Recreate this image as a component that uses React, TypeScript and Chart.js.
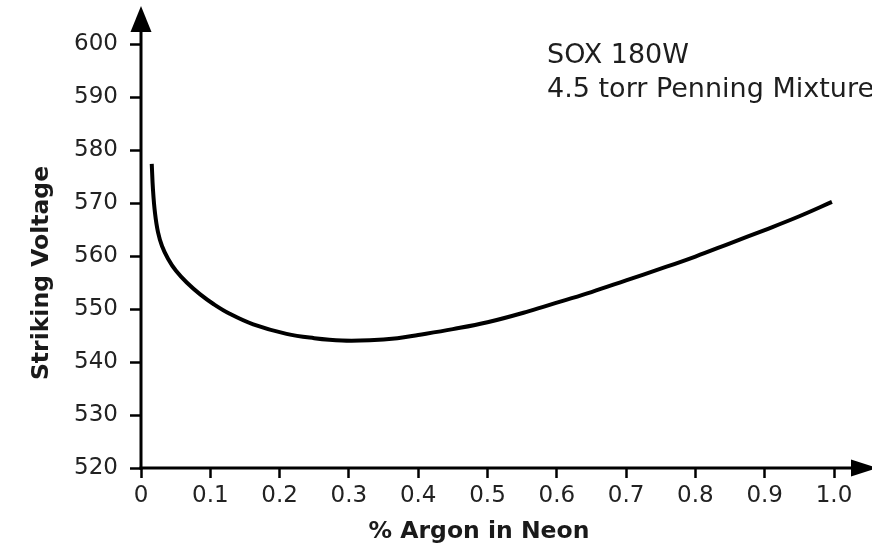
import React, { useEffect, useRef } from "react";
import { Chart, registerables } from "chart.js";

Chart.register(...registerables);

const argonPercent = [0.0155, 0.0173, 0.0202, 0.0245, 0.0303, 0.039, 0.0505, 0.066, 0.085, 0.105, 0.128, 0.162, 0.21, 0.25, 0.29, 0.33, 0.37, 0.4, 0.45, 0.5, 0.56, 0.605, 0.65, 0.7, 0.75, 0.8, 0.85, 0.9, 0.95, 0.997];
const strikingVoltage = [577.4, 572.5, 568.1, 564.5, 561.9, 559.5, 557.2, 555.0, 552.8, 550.9, 549.1, 547.1, 545.3, 544.5, 544.05, 544.1, 544.5, 545.1, 546.2, 547.5, 549.6, 551.4, 553.2, 555.4, 557.6, 559.9, 562.4, 564.9, 567.5, 570.2];
const xTickValues = [0, 0.1, 0.2, 0.3, 0.4, 0.5, 0.6, 0.7, 0.8, 0.9, 1.0];
const xTickLabels = ["0", "0.1", "0.2", "0.3", "0.4", "0.5", "0.6", "0.7", "0.8", "0.9", "1.0"];
const yTickValues = [520, 530, 540, 550, 560, 570, 580, 590, 600];
const annotationLines = ["SOX 180W", "4.5 torr Penning Mixture"];
const xTitle = "% Argon in Neon";
const yTitle = "Striking Voltage";

const decorPlugin = {
  id: "decor",
  afterDraw(chart: any) {
    const ctx = chart.ctx;
    const xs = chart.scales.x;
    const ys = chart.scales.y;
    const x0 = xs.getPixelForValue(0);
    const yb = ys.getPixelForValue(520);
    ctx.save();
    ctx.strokeStyle = "#000";
    ctx.fillStyle = "#000";
    ctx.lineWidth = 3;
    // vertical axis
    ctx.beginPath();
    ctx.moveTo(x0, yb + 1.5);
    ctx.lineTo(x0, 28);
    ctx.stroke();
    ctx.beginPath();
    ctx.moveTo(x0, 6);
    ctx.lineTo(x0 - 10.5, 32);
    ctx.lineTo(x0 + 10.5, 32);
    ctx.closePath();
    ctx.fill();
    // horizontal axis
    ctx.beginPath();
    ctx.moveTo(x0 - 1.5, yb);
    ctx.lineTo(854, yb);
    ctx.stroke();
    ctx.beginPath();
    ctx.moveTo(877, yb);
    ctx.lineTo(851, yb - 8.5);
    ctx.lineTo(851, yb + 8.5);
    ctx.closePath();
    ctx.fill();

    // annotation
    ctx.fillStyle = "#1e1e1e";
    ctx.font = "27px 'DejaVu Sans'";
    ctx.textAlign = "left";
    ctx.textBaseline = "alphabetic";
    ctx.fillText(annotationLines[0], 547, 63);
    ctx.fillText(annotationLines[1], 547, 97);

    // x title
    ctx.fillStyle = "#1a1a1a";
    ctx.font = "bold 23.5px 'DejaVu Sans'";
    ctx.textAlign = "center";
    ctx.fillText(xTitle, 479, 538);

    // y title
    ctx.save();
    ctx.translate(48, 273);
    ctx.rotate(-Math.PI / 2);
    ctx.font = "bold 23.5px 'DejaVu Sans'";
    ctx.textAlign = "center";
    ctx.textBaseline = "alphabetic";
    ctx.fillText(yTitle, 0, 0);
    ctx.restore();
    ctx.restore();
  },
};

export default function App() {
  const canvasRef = useRef<HTMLCanvasElement | null>(null);

  useEffect(() => {
    if (!canvasRef.current) return;
    const chart = new Chart(canvasRef.current, {
      type: "line",
      data: {
        datasets: [
          {
            data: argonPercent.map((x, i) => ({ x, y: strikingVoltage[i] })),
            borderColor: "#000",
            borderWidth: 4,
            pointRadius: 0,
            tension: 0.4,
            borderCapStyle: "butt",
            fill: false,
          },
        ],
      },
      options: {
        animation: false,
        responsive: true,
        maintainAspectRatio: false,
        layout: { padding: { top: 44, left: 0, right: 38, bottom: 0 } },
        plugins: { legend: { display: false }, tooltip: { enabled: false } },
        scales: {
          x: {
            type: "linear",
            min: 0,
            max: 1,
            afterFit: (s: any) => {
              s.height = 76;
            },
            afterBuildTicks: (s: any) => {
              s.ticks = xTickValues.map((v) => ({ value: v }));
            },
            border: { display: false },
            grid: {
              drawOnChartArea: false,
              drawTicks: true,
              tickLength: 10,
              tickWidth: 2.5,
              tickColor: "#000",
            },
            ticks: {
              color: "#222",
              font: { family: "'DejaVu Sans'", size: 23 },
              padding: 4,
              maxRotation: 0,
              autoSkip: false,
              callback: (v: any) => {
                const i = xTickValues.findIndex((t) => Math.abs(t - Number(v)) < 1e-6);
                return i >= 0 ? xTickLabels[i] : "";
              },
            },
          },
          y: {
            type: "linear",
            min: 520,
            max: 600,
            afterFit: (s: any) => {
              s.width = 141;
            },
            afterBuildTicks: (s: any) => {
              s.ticks = yTickValues.map((v) => ({ value: v }));
            },
            border: { display: false },
            grid: {
              drawOnChartArea: false,
              drawTicks: true,
              tickLength: 11,
              tickWidth: 2.5,
              tickColor: "#000",
            },
            ticks: {
              color: "#222",
              font: { family: "'DejaVu Sans'", size: 23 },
              padding: 12,
              autoSkip: false,
              callback: (v: any) => String(v),
            },
          },
        },
      },
      plugins: [decorPlugin],
    });
    return () => chart.destroy();
  }, []);

  return (
    <div style={{ position: "absolute", left: 0, top: 0, width: 872, height: 544, background: "#fff" }}>
      <canvas ref={canvasRef} />
    </div>
  );
}
